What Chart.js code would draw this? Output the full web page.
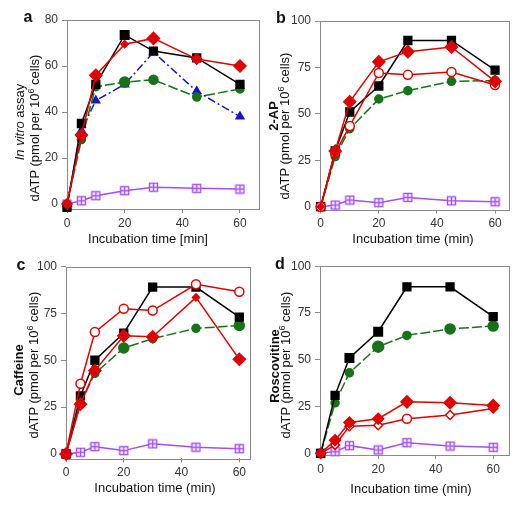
<!DOCTYPE html>
<html>
<head>
<meta charset="utf-8">
<script src="https://cdn.jsdelivr.net/npm/chart.js@4/dist/chart.umd.min.js"></script>
<style>
  body { margin: 0; background: #fff; width: 520px; height: 511px; position: relative; overflow: hidden;
         font-family: "Liberation Sans", Arial, sans-serif; }
  canvas { position: absolute; }
  .t { position: absolute; white-space: nowrap; font-size: 13px; color: #111; line-height: 1;
       transform: translate(-50%, -50%); }
  .r { transform: translate(-50%, -50%) rotate(-90deg); }
  .b { font-weight: bold; }
  .lt { font-weight: bold; font-size: 16px; }
  sup { font-size: 9px; vertical-align: 5px; }
</style>
</head>
<body>
<canvas id="ca" style="left:0;top:0" width="260" height="255"></canvas>
<canvas id="cb" style="left:260px;top:0" width="260" height="255"></canvas>
<canvas id="cc" style="left:0;top:255px" width="260" height="256"></canvas>
<canvas id="cd" style="left:260px;top:255px" width="260" height="256"></canvas>

<div class="t lt" style="left:28px;top:17px">a</div>
<div class="t lt" style="left:281px;top:18px">b</div>
<div class="t lt" style="left:21px;top:265px">c</div>
<div class="t lt" style="left:280px;top:264px">d</div>

<div class="t r" style="left:19px;top:122px"><i>In vitro</i> assay</div>
<div class="t r" style="left:34px;top:128px">dATP (pmol per 10<sup>6</sup> cells)</div>
<div class="t r b" style="left:273px;top:116px">2-AP</div>
<div class="t r" style="left:284px;top:126px">dATP (pmol per 10<sup>6</sup> cells)</div>
<div class="t r b" style="left:18px;top:370px">Caffeine</div>
<div class="t r" style="left:33px;top:365px">dATP (pmol per 10<sup>6</sup> cells)</div>
<div class="t r b" style="left:274px;top:366px">Roscovitine</div>
<div class="t r" style="left:285px;top:365px">dATP (pmol per 10<sup>6</sup> cells)</div>

<div class="t" style="left:148px;top:238px">Incubation time [min]</div>
<div class="t" style="left:413px;top:238px">Incubation time (min)</div>
<div class="t" style="left:155px;top:487px">Incubation time (min)</div>
<div class="t" style="left:411px;top:488px">Incubation time (min)</div>

<script>
// incubation times (min)
const times = [0, 5, 10, 20, 30, 45, 60];
const xTicks = [0, 20, 40, 60];
const yTicksA = [0, 20, 40, 60, 80];
const yTicks = [0, 25, 50, 75, 100];

// a: in vitro assay
const aBlack  = [-1.5, 35, 52, 73.5, 66.5, 63.5, 52];
const aRed    = [0, 30, 56, 69.5, 72, 63, 60];
const aGreen  = [0, 28, 51, 53, 54, 46.5, 50];
const aBlue   = [0, 32, 45, 52, 66, 49, 38];
const aPurple = [0, 1.4, 3.6, 5.8, 7.3, 6.8, 6.5];

// b: 2-AP
const bBlack  = [0, 30, 51, 65, 89.5, 89.5, 73.5];
const bRed    = [0, 30, 56.5, 78, 83.5, 86, 67.5];
const bOpen   = [0, 29, 43.5, 72, 71, 72.5, 65.5];
const bGreen  = [0, 27, 42, 58, 62.5, 67.5, 68];
const bPurple = [0, 0.9, 3.6, 2.2, 5, 3.2, 2.7];

// c: caffeine
const cBlack  = [0, 31, 50, 64.5, 89, 89, 73];
const cOpen   = [0, 37.5, 65, 77.5, 76.5, 90.5, 86.5];
const cRed    = [0, 26.5, 44.5, 63, 62.5, 83.5, 50.5];
const cGreen  = [0, 27, 43, 56.5, 61.5, 67, 68.5];
const cPurple = [0, 0.9, 3.9, 1.8, 5.4, 3.6, 2.8];

// d: roscovitine
const dBlack  = [0, 31, 51, 65, 89, 89, 73];
const dGreen  = [0, 27, 43, 57, 63, 66.5, 68];
const dRed    = [0, 7, 16.5, 18.5, 27.5, 27, 25.5];
const dOpen   = [0, 4.5, 14.5, 15, 18.5, 20.5, 24];
const dPurple = [0, 0.9, 4.1, 1.8, 5.7, 3.9, 3.2];

const RED = '#e00000', GREEN = '#177317', BLUE = '#1515c8', PURPLE = '#a34dff';

// square with a plus inside, for the purple series
function crossSquare(color) {
  const c = document.createElement('canvas');
  c.width = 11; c.height = 11;
  const g = c.getContext('2d');
  g.fillStyle = '#fff';
  g.fillRect(1, 1, 9, 9);
  g.strokeStyle = color;
  g.lineWidth = 1.4;
  g.strokeRect(1.5, 1.5, 8, 8);
  g.beginPath();
  g.moveTo(5.5, 1.5); g.lineTo(5.5, 9.5);
  g.moveTo(1.5, 5.5); g.lineTo(9.5, 5.5);
  g.stroke();
  return c;
}
const purpleMark = crossSquare(PURPLE);

const pts = vals => times.map((t, i) => ({ x: t, y: vals[i] }));

const black  = (v, r) => ({ data: pts(v), borderColor: '#000', backgroundColor: '#000', pointStyle: 'rect', pointRadius: r || 5.5 });
const redD   = (v, r) => ({ data: pts(v), borderColor: RED, backgroundColor: RED, pointStyle: 'rectRot', pointRadius: r || 6 });
const redO   = (v, s) => ({ data: pts(v), borderColor: RED, backgroundColor: '#fff', pointStyle: s || 'circle', pointRadius: 4.5, pointBorderWidth: 1.5 });
const green  = (v, r) => ({ data: pts(v), borderColor: GREEN, backgroundColor: GREEN, pointStyle: 'circle', pointRadius: r || 4, borderDash: [10, 3] });
const blue   = v => ({ data: pts(v), borderColor: BLUE, backgroundColor: BLUE, pointStyle: 'triangle', pointRadius: 4.5, borderDash: [8, 3, 2, 3] });
const purple = v => ({ data: pts(v), borderColor: PURPLE, backgroundColor: PURPLE, pointStyle: purpleMark, pointRadius: 5 });

const framePlugin = {
  id: 'frame',
  beforeDatasetsDraw(chart) {
    const { ctx, chartArea: a } = chart;
    ctx.save();
    ctx.strokeStyle = '#8a8a8a';
    ctx.lineWidth = 1;
    ctx.strokeRect(Math.round(a.left) + 0.5, Math.round(a.top) + 0.5, Math.round(a.width), Math.round(a.height));
    ctx.restore();
  }
};

function makeChart(id, box, xr, yr, yt, datasets) {
  const canvas = document.getElementById(id);
  const W = canvas.width, H = canvas.height;
  datasets.forEach(d => { d.clip = false; d.fill = false; d.borderWidth = 1.5; d.tension = 0; });
  const tickFont = { family: '"Liberation Sans", Arial, sans-serif', size: 12 };
  return new Chart(canvas, {
    type: 'line',
    data: { datasets },
    plugins: [framePlugin],
    options: {
      responsive: false,
      animation: false,
      events: [],
      layout: { autoPadding: false, padding: { left: 0, top: box.top, right: W - box.right, bottom: 0 } },
      plugins: { legend: { display: false }, tooltip: { enabled: false } },
      scales: {
        x: {
          type: 'linear', min: xr[0], max: xr[1],
          afterFit: s => { s.height = H - box.bottom; },
          afterBuildTicks: s => { s.ticks = xTicks.map(v => ({ value: v })); },
          border: { display: false },
          grid: { drawOnChartArea: false, tickLength: 4, color: '#8a8a8a' },
          ticks: { font: tickFont, color: '#333', padding: 3, maxRotation: 0 }
        },
        y: {
          min: yr[0], max: yr[1],
          afterFit: s => { s.width = box.left; },
          afterBuildTicks: s => { s.ticks = yt.map(v => ({ value: v })); },
          border: { display: false },
          grid: { drawOnChartArea: false, tickLength: 5, color: '#8a8a8a' },
          ticks: { font: tickFont, color: '#333', padding: 4 }
        }
      }
    }
  });
}

makeChart('ca', { left: 67, right: 259, top: 20, bottom: 209 }, [0, 66.6], [-2.17, 80], yTicksA, [
  redD(aRed, [5, 6, 6, 3.5, 6, 5, 6]),
  black(aBlack, [5.5, 5.5, 5.5, 6, 5.5, 5.5, 5.5]),
  green(aGreen, [4, 4, 4, 5, 4.5, 4, 4]),
  blue(aBlue),
  purple(aPurple)
]);

makeChart('cb', { left: 60, right: 249, top: 21, bottom: 209.5 }, [-0.24, 64.8], [-1.5, 100], yTicks, [
  redD(bRed, [3.5, 6, 6, 6, 6, 6, 6]),
  redO(bOpen),
  black(bBlack),
  green(bGreen),
  purple(bPurple)
]);

makeChart('cc', { left: 66, right: 250, top: 11.5, bottom: 203.3 }, [0, 63.7], [-2.3, 100], yTicks, [
  redD(cRed, [6, 6, 6, 6, 6, 3.5, 6]),
  redO(cOpen),
  black(cBlack),
  green(cGreen, [4, 4, 4, 5, 4, 4, 5]),
  purple(cPurple)
]);

makeChart('cd', { left: 60, right: 249, top: 11, bottom: 200 }, [-0.24, 65.5], [-0.9, 100], yTicks, [
  redD(dRed, [5, 5.5, 5.5, 5.5, 6, 6, 6]),
  redO(dOpen, ['rectRot', 'rectRot', 'rectRot', 'rectRot', 'circle', 'rectRot', 'rectRot']),
  black(dBlack, [5.5, 5.5, 6, 6, 5.5, 5.5, 5.5]),
  green(dGreen, [4, 4, 4, 5.5, 4, 5, 5]),
  purple(dPurple)
]);
</script>
</body>
</html>
